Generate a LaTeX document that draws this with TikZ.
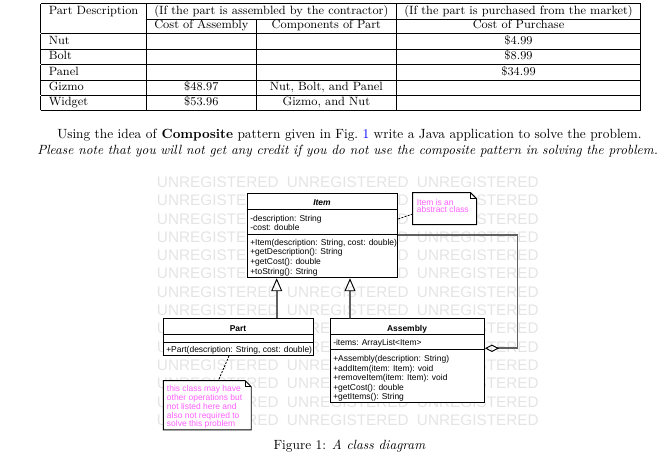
\documentclass[tikz,border=0pt]{standalone}
\usepackage{fontspec}
\newfontfamily\umlfont{Liberation Sans}
\usetikzlibrary{arrows.meta,calc}
\definecolor{notepink}{RGB}{255,95,255}
\definecolor{wmgray}{RGB}{228,228,228}
\definecolor{linkblue}{RGB}{0,0,255}
\begin{document}
\begin{tikzpicture}[x=0.75pt,y=-0.75pt,
  uml/.style={font=\umlfont\fontsize{6.35}{7.5}\selectfont, inner sep=0pt},
  umltxt/.style={uml, anchor=base west},
  umltitle/.style={inner sep=0pt, anchor=base, font=\umlfont\bfseries\fontsize{6.35}{7.5}\selectfont},
  classbox/.style={draw=black, line width=0.7pt, fill=white, anchor=north west, inner sep=0pt},
  sepline/.style={draw=black, line width=0.7pt},
  notebox/.style={anchor=north west, inner sep=0pt},
  notebord/.style={draw=black, line width=0.7pt, fill=white},
  notetxt/.style={uml, anchor=base west, text=notepink},
  gen/.style={draw=black!62, line width=1.2pt, -{Triangle[open, length=9.75pt, width=8.25pt, line width=0.7pt, color=black]}},
  agg/.style={draw=black!62, line width=1.2pt, -{Diamond[open, length=10.5pt, width=5.5pt, line width=0.7pt, color=black]}},
  dots/.style={draw=black, line width=0.6pt, dash pattern=on 1.5pt off 1pt},
  wm/.style={anchor=base west, inner sep=0pt, text=wmgray, font=\umlfont\fontsize{11.5}{12}\selectfont},
  body/.style={anchor=base west, inner sep=0pt, font=\fontsize{10}{12}\selectfont}
]
\useasboundingbox (0,0) rectangle (669,463);

% ---------- table ----------
\node[anchor=north west, inner sep=0pt, font=\small] (tbl) at (40.5,3) {%
\setlength{\arrayrulewidth}{0.55pt}%
\begin{tabular}{|l|c|c|c|}
\hline
Part Description & \multicolumn{2}{c|}{(If the part is assembled by the contractor)} & (If the part is purchased from the market)\\
\cline{2-4}
 & Cost of Assembly & Components of Part & Cost of Purchase\\
\hline
Nut & & & \$4.99\\
\hline
Bolt & & & \$8.99\\
\hline
Panel & & & \$34.99\\
\hline
Gizmo & \$48.97 & Nut, Bolt, and Panel & \\
\hline
Widget & \$53.96 & Gizmo, and Nut & \\
\hline
\end{tabular}};

% ---------- paragraph ----------
\node[body] (p1) at (57,139) {Using the idea of \textbf{Composite} pattern given in Fig.~\textcolor{linkblue}{1} write a Java application to solve the problem.};
\node[body] (p2) at (37,155) {\textit{Please note that you will not get any credit if you do not use the composite pattern in solving the problem.}};

% ---------- watermark ----------
\foreach \r in {0,...,13}{
  \foreach \c in {0,1,2}{
    \node[wm] (wm-\r-\c) at ({156.7+130*\c},{187.5+18.3*\r}) {UNREGISTERED};
  }
}

% ---------- Item ----------
\node[classbox, minimum width=112.95pt, minimum height=63pt] (item) at (246.7,193.3) {};
\draw[sepline] ($(item.north west)+(0,16)$) -- ($(item.north east)+(0,16)$);
\draw[sepline] ($(item.north west)+(0,40.7)$) -- ($(item.north east)+(0,40.7)$);
\node[umltitle, font=\umlfont\bfseries\itshape\fontsize{6.35}{7.5}\selectfont] (item-t) at (322,206) {Item};
\node[umltxt] (item-a1) at (250,221.2) {-description: String};
\node[umltxt] (item-a2) at (250,231) {-cost: double};
\node[umltxt] (item-m1) at (250,245.2) {+Item(description: String, cost: double)};
\node[umltxt] (item-m2) at (250,255) {+getDescription(): String};
\node[umltxt] (item-m3) at (250,264.8) {+getCost(): double};
\node[umltxt] (item-m4) at (250,274.6) {+toString(): String};

% ---------- Part ----------
\node[classbox, minimum width=112.95pt, minimum height=27.5pt] (part) at (162.7,318.3) {};
\draw[sepline] ($(part.north west)+(0,16)$) -- ($(part.north east)+(0,16)$);
\draw[sepline] ($(part.north west)+(0,24.4)$) -- ($(part.north east)+(0,24.4)$);
\node[umltitle] (part-t) at (238,331.3) {Part};
\node[umltxt] (part-m1) at (166,352.3) {+Part(description: String, cost: double)};

% ---------- Assembly ----------
\node[classbox, minimum width=115.5pt, minimum height=62.55pt] (asm) at (330,318.3) {};
\draw[sepline] ($(asm.north west)+(0,16)$) -- ($(asm.north east)+(0,16)$);
\draw[sepline] ($(asm.north west)+(0,31.3)$) -- ($(asm.north east)+(0,31.3)$);
\node[umltitle] (asm-t) at (407,331.3) {Assembly};
\node[umltxt] (asm-a1) at (333,345.5) {-items: ArrayList<Item>};
\node[umltxt] (asm-m1) at (333,361.5) {+Assembly(description: String)};
\node[umltxt] (asm-m2) at (333,371.1) {+addItem(item: Item): void};
\node[umltxt] (asm-m3) at (333,380.7) {+removeItem(item: Item): void};
\node[umltxt] (asm-m4) at (333,390.3) {+getCost(): double};
\node[umltxt] (asm-m5) at (333,399.9) {+getItems(): String};

% ---------- notes ----------
\node[notebox, minimum width=47.5pt, minimum height=23.5pt] (note1) at (412.7,192.7) {};
\draw[notebord] (note1.north west) -- ($(note1.north east)+(-6,0)$) -- ($(note1.north east)+(0,6)$) -- (note1.south east) -- (note1.south west) -- cycle;
\draw[sepline] ($(note1.north east)+(-6,0)$) -- ($(note1.north east)+(-6,6)$) -- ($(note1.north east)+(0,6)$);
\node[notetxt] (note1-l1) at (416.7,205.3) {Item is an};
\node[notetxt] (note1-l2) at (416.7,212.7) {abstract class};

\node[notebox, minimum width=65.55pt, minimum height=36.45pt] (note2) at (163.3,380.7) {};
\draw[notebord] (note2.north west) -- ($(note2.north east)+(-6,0)$) -- ($(note2.north east)+(0,6)$) -- (note2.south east) -- (note2.south west) -- cycle;
\draw[sepline] ($(note2.north east)+(-6,0)$) -- ($(note2.north east)+(-6,6)$) -- ($(note2.north east)+(0,6)$);
\node[notetxt] (note2-l1) at (166.7,392) {this class may have};
\node[notetxt] (note2-l2) at (166.7,400.7) {other operations but};
\node[notetxt] (note2-l3) at (166.7,409.4) {not listed here and};
\node[notetxt] (note2-l4) at (166.7,418.1) {also not required to};
\node[notetxt] (note2-l5) at (166.7,426.8) {solve this problem};

% ---------- connectors ----------
\draw[gen] ($(part.north west)+(114,0)$) -- ($(item.south west)+(30,0)$);
\draw[gen] ($(asm.north west)+(20,0)$) -- ($(item.south west)+(103.3,0)$);
\draw[agg] ($(item.north east)+(0,41.7)$) -- ++(119.4,0) |- ($(asm.north east)+(0,30)$);
\draw[dots] ($(item.north east)+(0,25.7)$) -- ($(note1.north west)+(0,21.3)$);
\draw[dots] ($(part.south west)+(66.3,0)$) -- ($(note2.north west)+(55,0)$);

% ---------- caption ----------
\node[anchor=base, inner sep=0pt, font=\fontsize{10}{12}\selectfont] (cap) at (349.5,449.5) {Figure 1: \textit{A class diagram}};
\end{tikzpicture}
\end{document}
